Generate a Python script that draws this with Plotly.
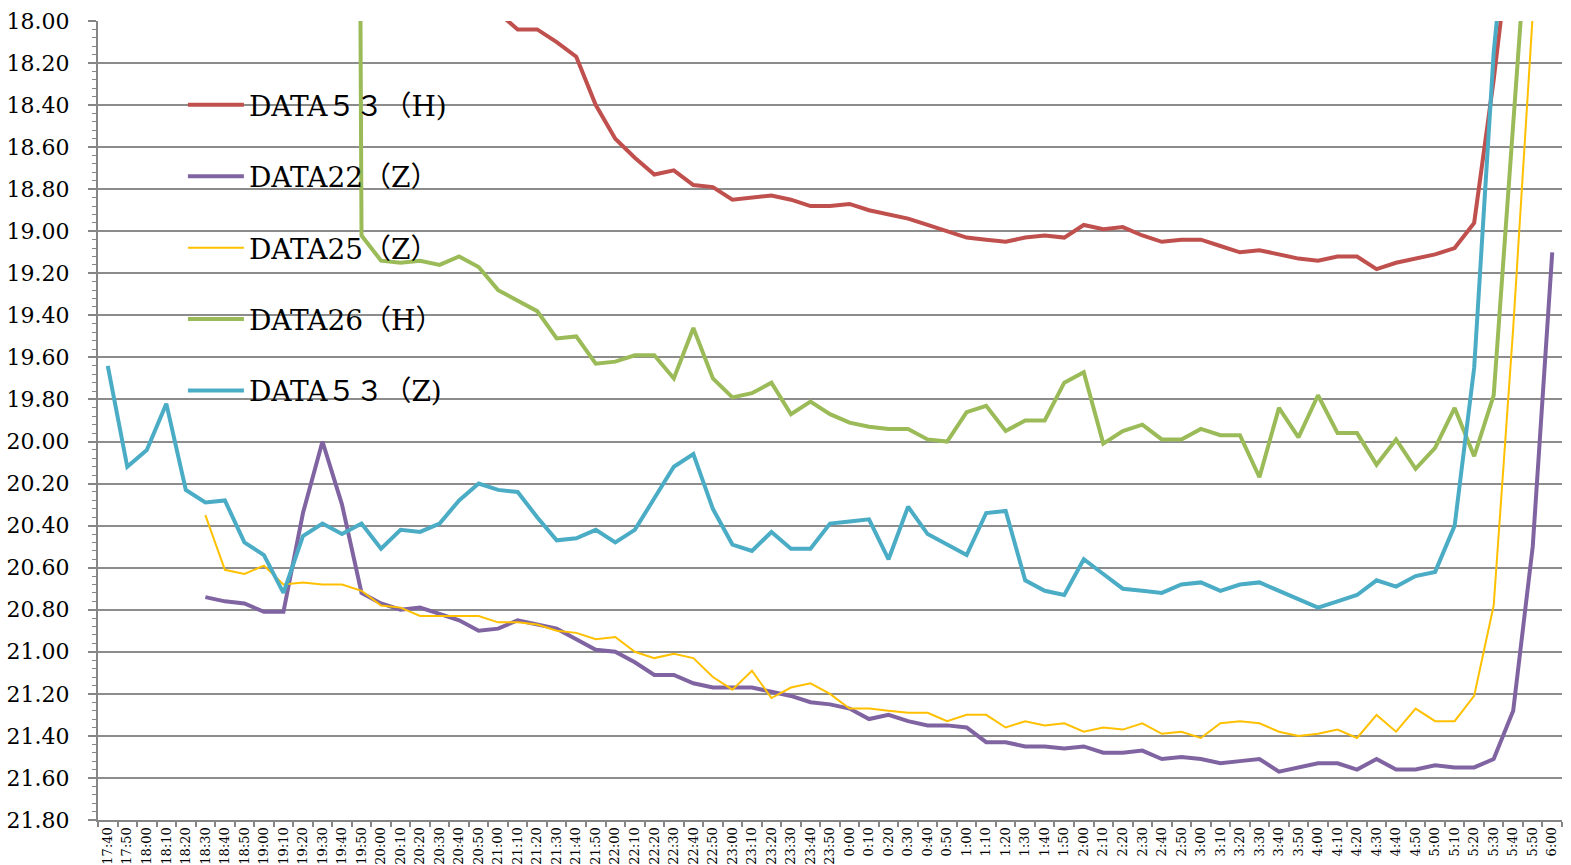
import plotly.graph_objects as go

# Time axis (10-minute readings, evening through the next morning)
times = [
    "17:40", "17:50", "18:00", "18:10", "18:20", "18:30", "18:40", "18:50",
    "19:00", "19:10", "19:20", "19:30", "19:40", "19:50",
    "20:00", "20:10", "20:20", "20:30", "20:40", "20:50",
    "21:00", "21:10", "21:20", "21:30", "21:40", "21:50",
    "22:00", "22:10", "22:20", "22:30", "22:40", "22:50",
    "23:00", "23:10", "23:20", "23:30", "23:40", "23:50",
    "0:00", "0:10", "0:20", "0:30", "0:40", "0:50",
    "1:00", "1:10", "1:20", "1:30", "1:40", "1:50",
    "2:00", "2:10", "2:20", "2:30", "2:40", "2:50",
    "3:00", "3:10", "3:20", "3:30", "3:40", "3:50",
    "4:00", "4:10", "4:20", "4:30", "4:40", "4:50",
    "5:00", "5:10", "5:20", "5:30", "5:40", "5:50", "6:00",
]

data53_h = [
    None, None, None, None, None, None, None, None, None, None,
    None, None, None, None, None, None, None, None, None, None,
    17.96, 18.04, 18.04, 18.10, 18.17, 18.40, 18.56, 18.65, 18.73, 18.71,
    18.78, 18.79, 18.85, 18.84, 18.83, 18.85, 18.88, 18.88, 18.87, 18.90,
    18.92, 18.94, 18.97, 19.00, 19.03, 19.04, 19.05, 19.03, 19.02, 19.03,
    18.97, 18.99, 18.98, 19.02, 19.05, 19.04, 19.04, 19.07, 19.10, 19.09,
    19.11, 19.13, 19.14, 19.12, 19.12, 19.18, 19.15, 19.13, 19.11, 19.08,
    18.96, 18.28, 17.50, 17.20, 17.00,
]

data22_z = [
    None, None, None, None, None,
    20.74, 20.76, 20.77, 20.81, 20.81,
    20.34, 20.00, 20.30, 20.72, 20.77, 20.80, 20.79, 20.82, 20.85, 20.90,
    20.89, 20.85, 20.87, 20.89, 20.94, 20.99, 21.00, 21.05, 21.11, 21.11,
    21.15, 21.17, 21.17, 21.17, 21.19, 21.21, 21.24, 21.25, 21.27, 21.32,
    21.30, 21.33, 21.35, 21.35, 21.36, 21.43, 21.43, 21.45, 21.45, 21.46,
    21.45, 21.48, 21.48, 21.47, 21.51, 21.50, 21.51, 21.53, 21.52, 21.51,
    21.57, 21.55, 21.53, 21.53, 21.56, 21.51, 21.56, 21.56, 21.54, 21.55,
    21.55, 21.51, 21.28, 20.50, 19.10,
]

data25_z = [
    None, None, None, None, None,
    20.35, 20.61, 20.63, 20.59, 20.68,
    20.67, 20.68, 20.68, 20.71, 20.78, 20.79, 20.83, 20.83, 20.83, 20.83,
    20.86, 20.86, 20.87, 20.90, 20.91, 20.94, 20.93, 21.00, 21.03, 21.01,
    21.03, 21.12, 21.18, 21.09, 21.22, 21.17, 21.15, 21.20, 21.27, 21.27,
    21.28, 21.29, 21.29, 21.33, 21.30, 21.30, 21.36, 21.33, 21.35, 21.34,
    21.38, 21.36, 21.37, 21.34, 21.39, 21.38, 21.41, 21.34, 21.33, 21.34,
    21.38, 21.40, 21.39, 21.37, 21.41, 21.30, 21.38, 21.27, 21.33, 21.33,
    21.21, 20.78, 19.46, 17.97, 17.20,
]

data26_h = [
    None, None, None, None, None, None, None, None, None, None,
    None, None, 0.0, 19.02, 19.14, 19.15, 19.14, 19.16, 19.12, 19.17,
    19.28, 19.33, 19.38, 19.51, 19.50, 19.63, 19.62, 19.59, 19.59, 19.70,
    19.46, 19.70, 19.79, 19.77, 19.72, 19.87, 19.81, 19.87, 19.91, 19.93,
    19.94, 19.94, 19.99, 20.00, 19.86, 19.83, 19.95, 19.90, 19.90, 19.72,
    19.67, 20.01, 19.95, 19.92, 19.99, 19.99, 19.94, 19.97, 19.97, 20.17,
    19.84, 19.98, 19.78, 19.96, 19.96, 20.11, 19.99, 20.13, 20.03, 19.84,
    20.07, 19.78, 18.46, 17.20, 16.50,
]

data53_z = [
    19.64, 20.12, 20.04, 19.82, 20.23, 20.29, 20.28, 20.48, 20.54, 20.72,
    20.45, 20.39, 20.44, 20.39, 20.51, 20.42, 20.43, 20.39, 20.28, 20.20,
    20.23, 20.24, 20.36, 20.47, 20.46, 20.42, 20.48, 20.42, 20.27, 20.12,
    20.06, 20.32, 20.49, 20.52, 20.43, 20.51, 20.51, 20.39, 20.38, 20.37,
    20.56, 20.31, 20.44, 20.49, 20.54, 20.34, 20.33, 20.66, 20.71, 20.73,
    20.56, 20.63, 20.70, 20.71, 20.72, 20.68, 20.67, 20.71, 20.68, 20.67,
    20.71, 20.75, 20.79, 20.76, 20.73, 20.66, 20.69, 20.64, 20.62, 20.40,
    19.65, 18.15, 17.20, 16.90, 16.70,
]

series = [
    ("DATA５３（H)", data53_h, "#C0504D", 4),
    ("DATA22（Z）", data22_z, "#8064A2", 4),
    ("DATA25（Z）", data25_z, "#FFC000", 2),
    ("DATA26（H）", data26_h, "#9BBB59", 4),
    ("DATA５３（Z)", data53_z, "#4BACC6", 4),
]

y_ticks = [18.0 + 0.2 * k for k in range(20)]

fig = go.Figure()
for k, (name, vals, color, width) in enumerate(series):
    fig.add_trace(go.Scatter(
        x=times, y=vals, name=name, mode="lines",
        line=dict(color=color, width=width),
        connectgaps=False, legendgroup=f"g{k}",
    ))

fig.update_layout(
    width=1571, height=865,
    margin=dict(l=98, r=9, t=21, b=45),
    paper_bgcolor="white", plot_bgcolor="white",
    font=dict(family="DejaVu Serif, Noto Sans CJK JP", color="black"),
    showlegend=True,
    legend=dict(
        x=0.058, y=0.926, xanchor="left", yanchor="top",
        bgcolor="rgba(0,0,0,0)", borderwidth=0,
        font=dict(family="DejaVu Serif, Noto Sans CJK JP", size=28, color="black"),
        tracegroupgap=32, itemwidth=56,
    ),
)

fig.update_xaxes(
    type="category", range=[-0.5, len(times) - 0.5], automargin=False,
    tickson="boundaries", ticks="outside", ticklen=5, tickwidth=1.5,
    tickcolor="#868686", showline=True, linecolor="#868686", linewidth=2,
    showgrid=False, tickangle=-90, tickfont=dict(size=13, family="DejaVu Serif"),
)

fig.update_yaxes(
    range=[21.8, 18.0], tickvals=y_ticks, automargin=False,
    ticktext=[f"{v:.2f}" for v in y_ticks],
    ticks="outside", ticklen=8, tickwidth=1.5, tickcolor="#868686",
    showline=True, linecolor="#868686", linewidth=2,
    showgrid=True, gridcolor="#8c8c8c", gridwidth=1.5,
    tickfont=dict(size=22, family="DejaVu Serif"), ticklabelstandoff=14,
    minor=dict(ticks="outside", ticklen=4, dtick=0.04, tickcolor="#868686",
               tickwidth=1.2, showgrid=False),
    zeroline=False,
)

fig.write_html("out.html")
